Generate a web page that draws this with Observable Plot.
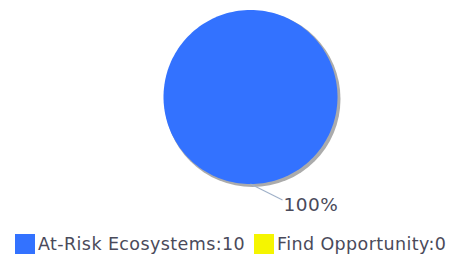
<!DOCTYPE html>
<html>
<head>
<meta charset="utf-8">
<script src="https://cdn.jsdelivr.net/npm/d3@7"></script>
<script src="https://cdn.jsdelivr.net/npm/@observablehq/plot@0.6"></script>
<style>
  html, body { margin: 0; padding: 0; background: #fff; }
  #wrap { width: 460px; height: 260px; position: relative; overflow: hidden; }
  #legend { position: absolute; left: 15px; top: 234px; display: flex; align-items: center;
            font-family: "DejaVu Sans", sans-serif; font-size: 17.5px; letter-spacing: 0.4px; color: #4a4a5a; white-space: nowrap; }
  #legend .sw { width: 20px; height: 20px; display: inline-block; margin-right: 3px; box-sizing: border-box; }
  #legend .item { display: flex; align-items: center; margin-right: 9px; }
</style>
</head>
<body>
<div id="wrap"><div id="chart"></div><div id="legend"></div></div>
<script>
const categories = ["At-Risk Ecosystems", "Find Opportunity"];
const values = [10, 0];
const colors = ["#3372ff", "#f5f500"];

// layout constants
const W = 460, H = 226;
const cx = 250, cy = 96.5, R = 87;

const data = categories.map((c, i) => ({category: c, value: values[i], color: colors[i]}));
const total = d3.sum(values);
const arcs = d3.pie().sort(null).value(d => d.value)(data).filter(a => a.value > 0);

// polygon points for each slice
const pts = [];
arcs.forEach((a, k) => {
  const full = a.endAngle - a.startAngle >= 2 * Math.PI - 1e-9;
  if (!full) pts.push({k, x: cx, y: cy, color: a.data.color});
  const n = 180;
  for (let j = 0; j <= n; j++) {
    const t = a.startAngle + (a.endAngle - a.startAngle) * j / n;
    pts.push({k, x: cx + R * Math.sin(t), y: cy - R * Math.cos(t), color: a.data.color});
  }
});

// labels with leader lines
const labels = arcs.map(a => {
  const m = (a.startAngle + a.endAngle) / 2;
  const x0 = cx + R * Math.sin(m), y0 = cy - R * Math.cos(m);
  return {x0, y0, x1: x0 + 32, y1: y0 + 16, text: d3.format(".0%")(a.value / total)};
});

const chart = Plot.plot({
  width: W, height: H,
  margin: 0,
  x: {domain: [0, W], range: [0, W], axis: null},
  y: {domain: [0, H], range: [0, H], axis: null},
  marks: [
    Plot.dot([{x: cx + 2, y: cy + 2}], {x: "x", y: "y", r: R + 1, fill: "#888", stroke: "none", fillOpacity: 0.7, ariaLabel: "shadow"}),
    Plot.line(pts, {x: "x", y: "y", z: "k", fill: "color", stroke: "none", curve: "linear"}),
    Plot.link(labels, {x1: "x0", y1: "y0", x2: "x1", y2: "y1", stroke: "#9fb0c8", strokeWidth: 1.2}),
    Plot.text(labels, {x: "x1", y: "y1", text: "text", textAnchor: "start", dx: 1, dy: 5,
      fontSize: 18.5, fontFamily: "DejaVu Sans, sans-serif", fill: "#4a4a5a"})
  ]
});
const svg = d3.select(chart);
svg.insert("defs", ":first-child").html('<filter id="blur" x="-20%" y="-20%" width="140%" height="140%"><feGaussianBlur stdDeviation="2.2"/></filter>');
svg.select('g[aria-label="shadow"]').attr("filter", "url(#blur)");
svg.selectAll('g[aria-label="text"] text').style("letter-spacing", "0.5px");
document.getElementById("chart").appendChild(chart);

const legend = d3.select("#legend");
data.forEach(d => {
  const it = legend.append("div").attr("class", "item");
  it.append("span").attr("class", "sw").style("background", d.color);
  it.append("span").text(`${d.category}:${d.value}`);
});
</script>
</body>
</html>
